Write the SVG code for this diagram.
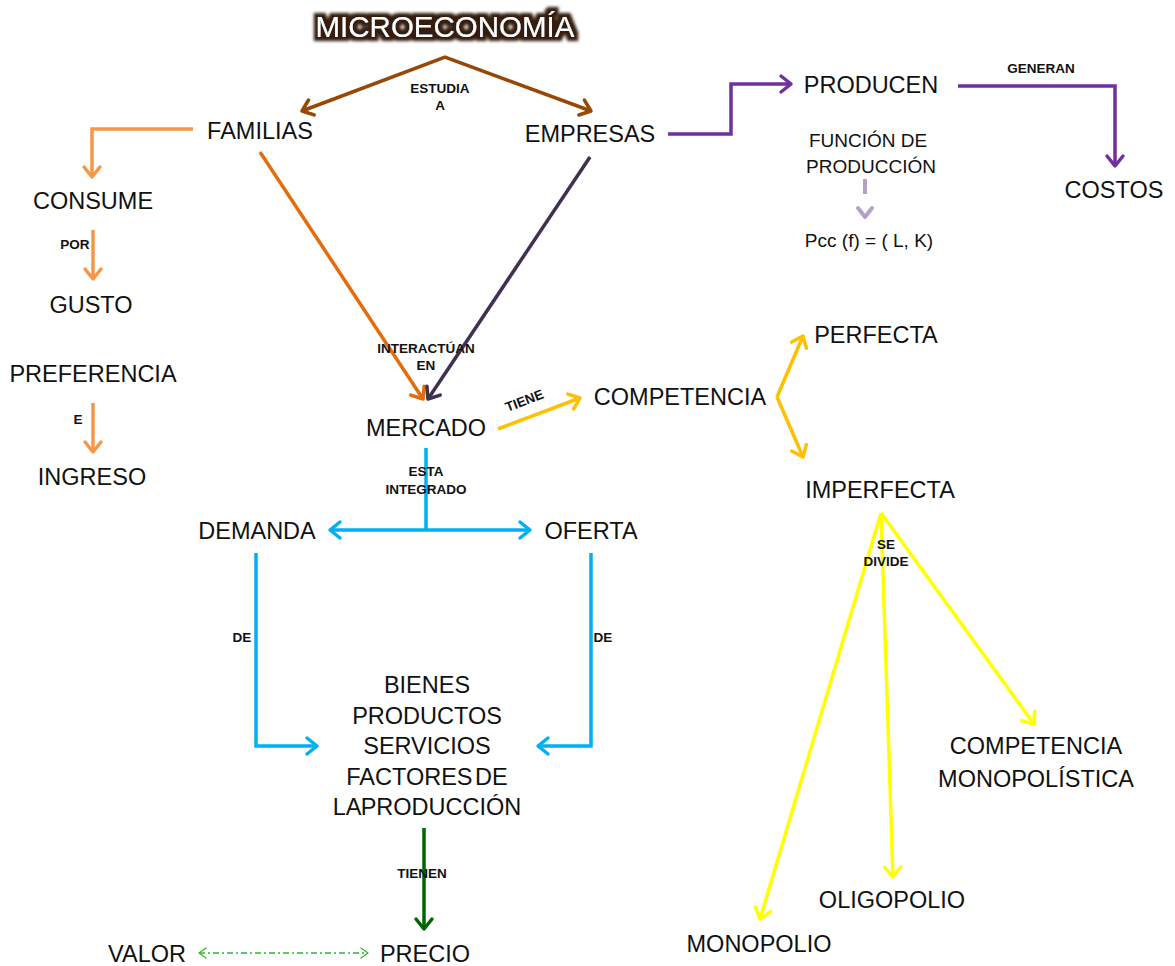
<svg xmlns="http://www.w3.org/2000/svg" width="1175" height="966" viewBox="0 0 1175 966">
<style>
text{font-family:"Liberation Sans",Arial,sans-serif;fill:#111}
.n{font-size:23.5px;text-anchor:middle}
.s{font-size:19px;text-anchor:middle}
.l{font-size:13.5px;font-weight:bold;text-anchor:middle}
.c{fill:none;stroke-width:3.5;stroke-linejoin:miter}
</style>
<defs>
<filter id="glow" x="-10%" y="-50%" width="120%" height="200%">
<feMorphology in="SourceAlpha" operator="dilate" radius="4" result="d"/>
<feGaussianBlur in="d" stdDeviation="1.5" result="b"/>
<feFlood flood-color="#341e0c"/>
<feComposite in2="b" operator="in" result="g"/>
<feMerge><feMergeNode in="g"/><feMergeNode in="SourceGraphic"/></feMerge>
</filter>
<marker id="mBrown" markerUnits="userSpaceOnUse" viewBox="-13 -11 16 22" markerWidth="16" markerHeight="22" refX="0" refY="0" orient="auto-start-reverse" overflow="visible"><path d="M-10,-8 L0,0 L-10,8" fill="none" stroke="#974806" stroke-width="3.5" stroke-linecap="round" stroke-linejoin="round"/></marker>
<marker id="mOrange" markerUnits="userSpaceOnUse" viewBox="-13 -11 16 22" markerWidth="16" markerHeight="22" refX="0" refY="0" orient="auto" overflow="visible"><path d="M-10,-8 L0,0 L-10,8" fill="none" stroke="#F79646" stroke-width="3.5" stroke-linecap="round" stroke-linejoin="round"/></marker>
<marker id="mOrangeD" markerUnits="userSpaceOnUse" viewBox="-13 -11 16 22" markerWidth="16" markerHeight="22" refX="0" refY="0" orient="auto" overflow="visible"><path d="M-10,-8 L0,0 L-10,8" fill="none" stroke="#E46C0A" stroke-width="3.5" stroke-linecap="round" stroke-linejoin="round"/></marker>
<marker id="mDPurple" markerUnits="userSpaceOnUse" viewBox="-13 -11 16 22" markerWidth="16" markerHeight="22" refX="0" refY="0" orient="auto" overflow="visible"><path d="M-10,-8 L0,0 L-10,8" fill="none" stroke="#403152" stroke-width="3.5" stroke-linecap="round" stroke-linejoin="round"/></marker>
<marker id="mPurple" markerUnits="userSpaceOnUse" viewBox="-13 -11 16 22" markerWidth="16" markerHeight="22" refX="0" refY="0" orient="auto" overflow="visible"><path d="M-10,-8 L0,0 L-10,8" fill="none" stroke="#7030A0" stroke-width="3.5" stroke-linecap="round" stroke-linejoin="round"/></marker>
<marker id="mLPurple" markerUnits="userSpaceOnUse" viewBox="-13 -11 16 22" markerWidth="16" markerHeight="22" refX="0" refY="0" orient="auto" overflow="visible"><path d="M-9,-7 L0,0 L-9,7" fill="none" stroke="#B3A2C7" stroke-width="4" stroke-linecap="round" stroke-linejoin="round"/></marker>
<marker id="mGold" markerUnits="userSpaceOnUse" viewBox="-13 -11 16 22" markerWidth="16" markerHeight="22" refX="0" refY="0" orient="auto" overflow="visible"><path d="M-10,-8 L0,0 L-10,8" fill="none" stroke="#FFC000" stroke-width="3.5" stroke-linecap="round" stroke-linejoin="round"/></marker>
<marker id="mYellow" markerUnits="userSpaceOnUse" viewBox="-13 -11 16 22" markerWidth="16" markerHeight="22" refX="0" refY="0" orient="auto" overflow="visible"><path d="M-10,-8 L0,0 L-10,8" fill="none" stroke="#FFFF00" stroke-width="3.5" stroke-linecap="round" stroke-linejoin="round"/></marker>
<marker id="mBlue" markerUnits="userSpaceOnUse" viewBox="-13 -11 16 22" markerWidth="16" markerHeight="22" refX="0" refY="0" orient="auto-start-reverse" overflow="visible"><path d="M-10,-8 L0,0 L-10,8" fill="none" stroke="#00B0F0" stroke-width="3.5" stroke-linecap="round" stroke-linejoin="round"/></marker>
<marker id="mGreen" markerUnits="userSpaceOnUse" viewBox="-13 -11 16 22" markerWidth="16" markerHeight="22" refX="0" refY="0" orient="auto" overflow="visible"><path d="M-10,-8 L0,0 L-10,8" fill="none" stroke="#006600" stroke-width="3.5" stroke-linecap="round" stroke-linejoin="round"/></marker>
<marker id="mLGreen" markerUnits="userSpaceOnUse" viewBox="-9 -6 10 12" markerWidth="10" markerHeight="12" refX="0" refY="0" orient="auto-start-reverse" overflow="visible"><path d="M-7,-5 L0,0 L-7,5" fill="none" stroke="#2DB82D" stroke-width="1.3" stroke-linecap="round" stroke-linejoin="round"/></marker>
</defs>

<g id="connectors">
<path class="c" stroke="#974806" d="M302,111 L445,57 L591,111" marker-start="url(#mBrown)" marker-end="url(#mBrown)"/>
<path class="c" stroke="#F79646" d="M193,129 L92,129 L92,177" marker-end="url(#mOrange)"/>
<path class="c" stroke="#F79646" d="M93,230 L93,279" marker-end="url(#mOrange)"/>
<path class="c" stroke="#F79646" d="M93,403 L93,452" marker-end="url(#mOrange)"/>
<path class="c" stroke="#E46C0A" d="M260,152 L423,399" marker-end="url(#mOrangeD)"/>
<path class="c" stroke="#403152" d="M590,157 L428,399" marker-end="url(#mDPurple)"/>
<path class="c" stroke="#7030A0" d="M668,134 L731,134 L731,84 L791,84" marker-end="url(#mPurple)"/>
<path class="c" stroke="#7030A0" d="M958,86 L1115,86 L1115,166" marker-end="url(#mPurple)"/>
<path fill="none" stroke="#B3A2C7" stroke-width="4" stroke-dasharray="15 60" d="M865,179 L865,217" marker-end="url(#mLPurple)"/>
<path class="c" stroke="#FFC000" d="M498,429 L580,398" marker-end="url(#mGold)"/>
<path class="c" stroke="#FFC000" d="M777,397 L803,336" marker-end="url(#mGold)"/>
<path class="c" stroke="#FFC000" d="M777,397 L803,457" marker-end="url(#mGold)"/>
<path class="c" stroke="#FFFF00" d="M881,513 L760,919" marker-end="url(#mYellow)"/>
<path class="c" stroke="#FFFF00" d="M881,513 L893,877" marker-end="url(#mYellow)"/>
<path class="c" stroke="#FFFF00" d="M881,513 L1034,724" marker-end="url(#mYellow)"/>
<path class="c" stroke="#00B0F0" d="M426,448 L426,530"/>
<path class="c" stroke="#00B0F0" d="M330,530 L530,530" marker-start="url(#mBlue)" marker-end="url(#mBlue)"/>
<path class="c" stroke="#00B0F0" d="M256,553 L256,746 L317,746" marker-end="url(#mBlue)"/>
<path class="c" stroke="#00B0F0" d="M591,553 L591,746 L538,746" marker-end="url(#mBlue)"/>
<path class="c" stroke="#006600" d="M424,828 L424,929" marker-end="url(#mGreen)"/>
<path fill="none" stroke="#2DB82D" stroke-width="1.3" stroke-dasharray="6 3 2 3" d="M199,953 L368,953" marker-start="url(#mLGreen)" marker-end="url(#mLGreen)"/>
<text class="l" x="440" y="93">ESTUDIA</text>
<text class="l" x="440" y="110">A</text>
<text class="l" x="1041" y="73">GENERAN</text>
<text class="l" x="75" y="249">POR</text>
<text class="l" x="78" y="424">E</text>
<text class="l" x="426" y="353">INTERACTÚAN</text>
<text class="l" x="426" y="370">EN</text>
<text class="l" x="0" y="0" transform="translate(526,405) rotate(-21)">TIENE</text>
<text class="l" x="426" y="476">ESTA</text>
<text class="l" x="426" y="494">INTEGRADO</text>
<text class="l" x="242" y="642">DE</text>
<text class="l" x="603" y="642">DE</text>
<text class="l" x="886" y="549">SE</text>
<text class="l" x="886" y="566">DIVIDE</text>
<text class="l" x="422" y="878">TIENEN</text>
</g>

<g id="microeconomia"><text x="445" y="37" text-anchor="middle" font-size="29.5" style="fill:#fff" filter="url(#glow)">MICROECONOMÍA</text></g>
<g id="familias"><text class="n" x="260" y="139">FAMILIAS</text></g>
<g id="empresas"><text class="n" x="590" y="142">EMPRESAS</text></g>
<g id="producen"><text class="n" x="871" y="93">PRODUCEN</text></g>
<g id="costos"><text class="n" x="1114" y="198">COSTOS</text></g>
<g id="funcion"><text class="s" x="868" y="147">FUNCIÓN DE</text><text class="s" x="871" y="173">PRODUCCIÓN</text></g>
<g id="pcc"><text class="s" x="869" y="247" font-size="19.5">Pcc (f) = ( L, K)</text></g>
<g id="consume"><text class="n" x="93" y="209">CONSUME</text></g>
<g id="gusto"><text class="n" x="91" y="313">GUSTO</text></g>
<g id="preferencia"><text class="n" x="93" y="382">PREFERENCIA</text></g>
<g id="ingreso"><text class="n" x="92" y="485">INGRESO</text></g>
<g id="mercado"><text class="n" x="426" y="436">MERCADO</text></g>
<g id="competencia"><text class="n" x="680" y="405">COMPETENCIA</text></g>
<g id="perfecta"><text class="n" x="876" y="343">PERFECTA</text></g>
<g id="imperfecta"><text class="n" x="880" y="498">IMPERFECTA</text></g>
<g id="demanda"><text class="n" x="257" y="539">DEMANDA</text></g>
<g id="oferta"><text class="n" x="591" y="539">OFERTA</text></g>
<g id="bienes">
<text class="n" x="427" y="693">BIENES</text>
<text class="n" x="427" y="724">PRODUCTOS</text>
<text class="n" x="427" y="754">SERVICIOS</text>
<text class="n" x="427" y="785" word-spacing="-4">FACTORES DE</text>
<text class="n" x="427" y="815" word-spacing="-6">LA PRODUCCIÓN</text>
</g>
<g id="comp-mono"><text class="n" x="1036" y="754">COMPETENCIA</text><text class="n" x="1036" y="787">MONOPOLÍSTICA</text></g>
<g id="oligopolio"><text class="n" x="892" y="908">OLIGOPOLIO</text></g>
<g id="monopolio"><text class="n" x="759" y="952">MONOPOLIO</text></g>
<g id="valor"><text class="n" x="147" y="962">VALOR</text></g>
<g id="precio"><text class="n" x="425" y="962">PRECIO</text></g>
</svg>
